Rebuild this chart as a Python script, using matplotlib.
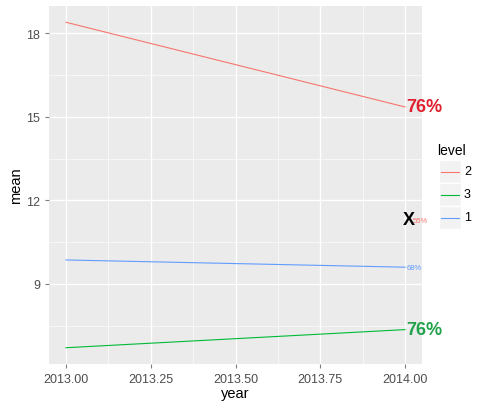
import numpy as np
import matplotlib
matplotlib.use('Agg')
from matplotlib import pyplot as plt
from matplotlib.patches import Rectangle
from matplotlib.lines import Line2D

plt.rcParams['font.family'] = ['Liberation Sans', 'DejaVu Sans']

# data
years = [2013, 2014]
levels = ['2', '3', '1']
level_means = {
    '2': [18.39, 15.35],
    '3': [6.71, 7.36],
    '1': [9.86, 9.60],
}
level_colors = {'2': '#F8766D', '3': '#00BA38', '1': '#619CFF'}

# end labels: (colour, x, y, text, size, bold)
end_labels = [
    ('#E0202E', 2014.005, 15.35, '76%', 13, True),
    ('#22A24A', 2014.005, 7.36, '76%', 13, True),
    ('#619CFF', 2014.005, 9.58, '68%', 5.5, False),
    ('#F8766D', 2014.022, 11.26, '55%', 5.5, False),
]
mark_x, mark_y = 2014.012, 11.30
mark_text = 'X'

xticks = [2013.00, 2013.25, 2013.50, 2013.75, 2014.00]
yticks = [9, 12, 15, 18]

W, H = 496, 410
fig = plt.figure(figsize=(W/100, H/100), dpi=100, facecolor='white')
ax = fig.add_axes([49/W, 1 - 365/H, (422-49)/W, (365-7)/H])
ax.set_facecolor('#EBEBEB')

# ggplot-like limits (5% expansion)
allv = np.concatenate([level_means[k] for k in levels])
span = allv.max() - allv.min()
ax.set_ylim(allv.min() - 0.05*span, allv.max() + 0.05*span)
ax.set_xlim(2013 - 0.05, 2014 + 0.05)

# grid
for t in np.arange(2012.875, 2014.2, 0.25):
    ax.axvline(t, color='#F7F7F7', lw=0.8, zorder=0)
for t in [7.5, 10.5, 13.5, 16.5]:
    ax.axhline(t, color='#F7F7F7', lw=0.8, zorder=0)
for t in xticks:
    ax.axvline(t, color='white', lw=1.0, zorder=0)
for t in yticks:
    ax.axhline(t, color='white', lw=1.0, zorder=0)

for k in levels:
    ax.plot(years, level_means[k], color=level_colors[k], lw=0.8, zorder=2)

for c, x, y, txt, size, bold in end_labels:
    ax.text(x, y, txt, color=c, fontsize=size,
            fontweight='bold' if bold else 'normal', ha='left', va='center',
            clip_on=False, zorder=3)

ax.text(mark_x, mark_y, mark_text, color='black', fontsize=13, fontweight='bold',
        ha='center', va='center', clip_on=False, zorder=4)

for s in ax.spines.values():
    s.set_visible(False)

ax.set_xticks(xticks)
ax.set_xticklabels(['%.2f' % t for t in xticks])
ax.set_yticks(yticks)
ax.tick_params(colors='#7F7F7F', labelcolor='#4D4D4D', labelsize=9, length=3, width=0.8)
ax.set_xlabel('year', fontsize=10.5, labelpad=1)
ax.set_ylabel('mean', fontsize=10.5, labelpad=2)

# legend (ggplot style keys)
fig.text(437/W, 1 - 151/H, 'level', fontsize=10, ha='left', va='center')
key_top, key_h, key_x0, key_w = 161, 23, 439, 22
for i, k in enumerate(levels):
    y0 = key_top + i*key_h
    fig.patches.append(Rectangle((key_x0/W, 1 - (y0 + key_h)/H), key_w/W, key_h/H,
                                 transform=fig.transFigure, facecolor='#F2F2F2',
                                 edgecolor='white', lw=1))
    yc = 1 - (y0 + key_h/2)/H
    fig.lines.append(Line2D([(key_x0 + 2)/W, (key_x0 + key_w - 2)/W], [yc, yc],
                            transform=fig.transFigure, color=level_colors[k], lw=0.8))
    fig.text((key_x0 + key_w + 3)/W, yc, k, fontsize=9, ha='left', va='center')

fig.savefig('out.png', dpi=100, facecolor='white')
